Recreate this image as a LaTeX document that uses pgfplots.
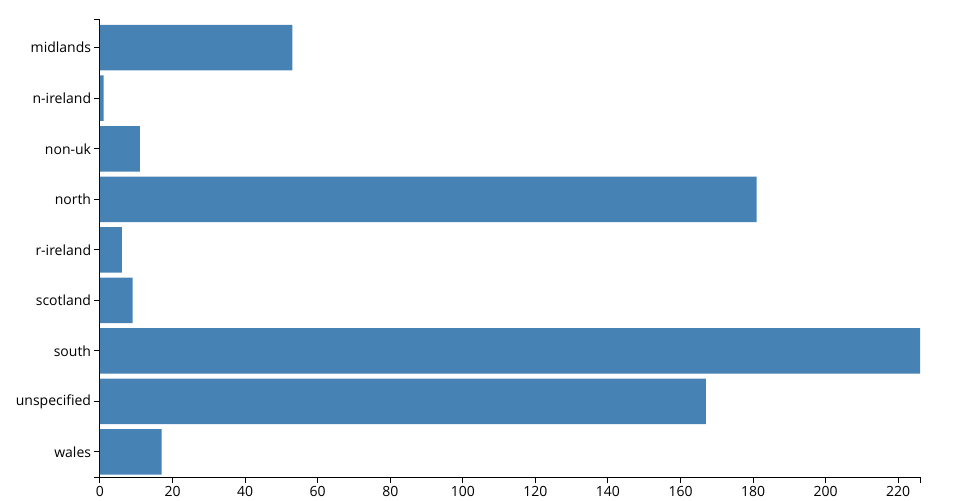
\documentclass[border=0pt]{standalone}
\usepackage{fontspec}
\setmainfont{Open Sans}
\usepackage{pgfplots}
\pgfplotsset{compat=1.18}
\definecolor{steel}{HTML}{4682B4}
\begin{document}
\begin{tikzpicture}
\begin{axis}[
    at={(0,0)}, anchor=south west,
    scale only axis,
    width=615pt, height=342.75pt,
    xbar, bar width=0.9,
    xmin=0, xmax=226,
    ymin=-0.495, ymax=8.548,
    axis x line*=bottom,
    axis y line*=left,
    axis line style={black, line width=0.75pt},
    xtick={0,20,...,220},
    ytick={0,...,8},
    yticklabels={wales,unspecified,south,scotland,r-ireland,north,non-uk,n-ireland,midlands},
    tick align=outside,
    major tick length=4.5pt,
    tick style={black, line width=0.75pt},
    /pgf/number format/assume math mode=true,
    tick label style={font=\fontsize{10.5}{12}\selectfont, text=black},
    yticklabel style={inner sep=2pt},
    xticklabel style={inner sep=2pt},
]
\addplot[fill=steel, draw=none] coordinates {
    (17,0) (167,1) (226,2) (9,3) (6,4) (181,5) (11,6) (1,7) (53,8)
};
\end{axis}
% end ticks of the axis lines
\draw[black, line width=0.75pt] (0,342.75pt) -- ++(-4.5pt,0);
\draw[black, line width=0.75pt] (0,0) -- ++(-4.5pt,0);
\draw[black, line width=0.75pt] (615pt,0) -- ++(0,-4.5pt);
\pgfresetboundingbox
\path (-75pt,-17.25pt) rectangle (645pt,357.75pt);
\end{tikzpicture}
\end{document}
